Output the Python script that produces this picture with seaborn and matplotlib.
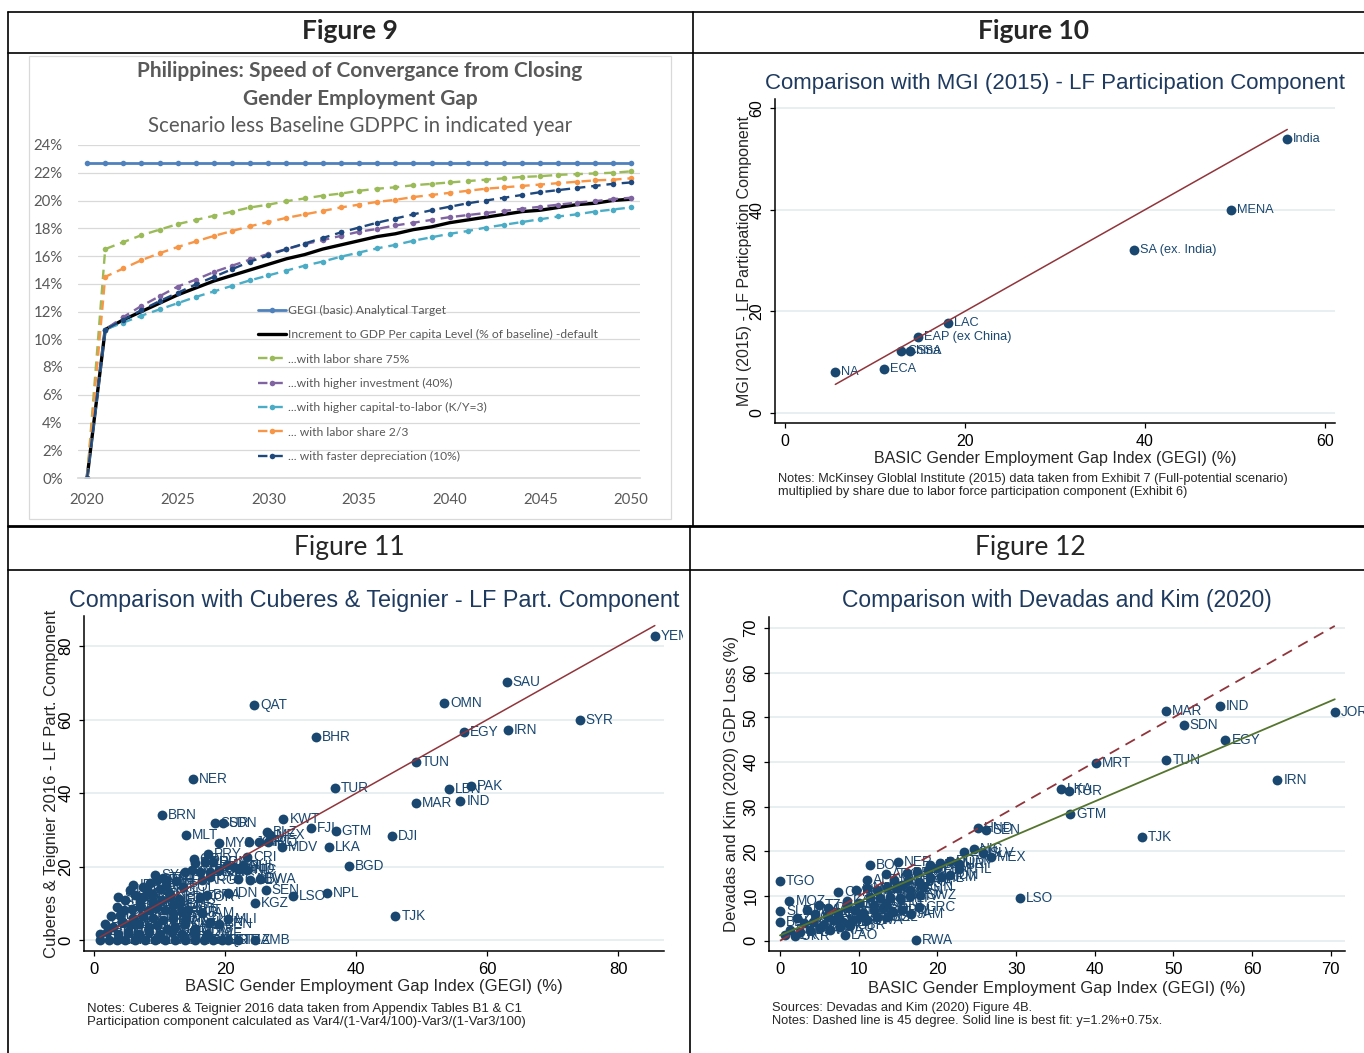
import seaborn as sns
import matplotlib.pyplot as plt
from matplotlib.lines import Line2D
from matplotlib.patches import Rectangle
from matplotlib.transforms import Bbox, TransformedBbox

W, H = 1364, 1053

# ---------------- Figure 9: scenario less baseline GDPPC (%) ----------------
years = list(range(2020, 2051))
gegi_target = [22.7, 22.7, 22.7, 22.7, 22.7, 22.7, 22.7, 22.7, 22.7, 22.7, 22.7,
               22.7, 22.7, 22.7, 22.7, 22.7, 22.7, 22.7, 22.7, 22.7, 22.7,
               22.7, 22.7, 22.7, 22.7, 22.7, 22.7, 22.7, 22.7, 22.7, 22.7]
default_incr = [0.0, 10.7, 11.4, 12.0, 12.6, 13.2, 13.7, 14.2, 14.6, 15.0, 15.4,
                15.8, 16.1, 16.5, 16.8, 17.1, 17.4, 17.6, 17.9, 18.1, 18.4,
                18.6, 18.8, 19.0, 19.2, 19.3, 19.5, 19.7, 19.8, 20.0, 20.1]
labor75 = [0.0, 16.5, 17.0, 17.5, 17.9, 18.3, 18.6, 18.9, 19.2, 19.5, 19.7,
           19.95, 20.15, 20.35, 20.5, 20.7, 20.85, 20.95, 21.1, 21.2, 21.3,
           21.4, 21.5, 21.6, 21.7, 21.75, 21.85, 21.9, 21.95, 22.0, 22.1]
invest40 = [0.0, 10.7, 11.6, 12.4, 13.1, 13.8, 14.3, 14.85, 15.3, 15.75, 16.15,
            16.5, 16.85, 17.15, 17.45, 17.75, 17.95, 18.2, 18.4, 18.6, 18.8,
            18.95, 19.1, 19.25, 19.4, 19.55, 19.7, 19.85, 19.95, 20.1, 20.2]
kl3 = [0.0, 10.7, 11.2, 11.7, 12.15, 12.6, 13.05, 13.45, 13.85, 14.25, 14.6,
       14.95, 15.3, 15.6, 15.95, 16.25, 16.55, 16.8, 17.1, 17.35, 17.6,
       17.8, 18.05, 18.25, 18.45, 18.65, 18.85, 19.0, 19.2, 19.35, 19.5]
labor23 = [0.0, 14.5, 15.1, 15.7, 16.2, 16.65, 17.05, 17.45, 17.8, 18.15, 18.45,
           18.75, 19.0, 19.25, 19.5, 19.7, 19.9, 20.05, 20.25, 20.4, 20.55,
           20.7, 20.85, 20.95, 21.05, 21.15, 21.25, 21.35, 21.45, 21.5, 21.6]
deprec10 = [0.0, 10.7, 11.4, 12.1, 12.75, 13.35, 13.95, 14.5, 15.05, 15.6, 16.05,
            16.5, 16.9, 17.3, 17.7, 18.05, 18.4, 18.7, 19.0, 19.3, 19.55,
            19.8, 20.0, 20.2, 20.4, 20.6, 20.75, 20.9, 21.05, 21.2, 21.3]
fig9_yticks = [0, 2, 4, 6, 8, 10, 12, 14, 16, 18, 20, 22, 24]
fig9_xticks = [2020, 2025, 2030, 2035, 2040, 2045, 2050]

# ---------------- Figure 10: MGI (2015) regions ----------------
mgi_regions = ["India", "MENA", "SA (ex. India)", "LAC", "EAP (ex China)",
               "China", "SSA", "ECA", "NA"]
mgi_gegi = [55.8, 49.6, 38.8, 18.1, 14.8, 12.95, 13.9, 11.0, 5.6]
mgi_lfp = [53.9, 39.9, 32.1, 17.6, 15.0, 12.1, 12.1, 8.7, 8.1]

# ---------------- Figure 11: Cuberes & Teignier (2016) ----------------
ct_named_codes = ["YEM", "SAU", "QAT", "OMN", "SYR", "EGY", "IRN", "BHR", "TUN", "NER",
                  "TUR", "LBN", "PAK", "MAR", "IND", "BRN", "SUR", "SDN", "KWT", "FJI",
                  "GTM", "DJI", "MLT", "BLZ", "MEX", "MYS", "JOR", "CHL", "IRQ", "MDV",
                  "LKA", "BGD", "PRY", "CRI", "PHL", "SEN", "LSO", "NPL", "IDN", "KGZ",
                  "TJK", "JAM", "MLI"]
ct_named_gegi = [85.6, 63.0, 24.4, 53.4, 74.1, 56.5, 63.2, 33.8, 49.1, 15.1,
                 36.7, 54.2, 57.5, 49.1, 55.9, 10.4, 18.4, 19.6, 28.9, 33.1,
                 36.9, 45.5, 14.0, 26.4, 26.9, 19.0, 23.7, 25.1, 26.5, 28.7,
                 35.8, 38.9, 17.4, 23.4, 22.8, 26.2, 30.4, 35.6, 20.5, 24.6,
                 46.0, 16.4, 20.5]
ct_named_part = [82.8, 70.3, 64.1, 64.6, 59.9, 56.7, 57.1, 55.3, 48.5, 44.0,
                 41.4, 41.1, 41.9, 37.3, 37.9, 34.2, 32.0, 32.0, 33.1, 30.6,
                 29.7, 28.5, 28.6, 29.5, 28.6, 26.5, 26.7, 26.7, 26.7, 25.4,
                 25.4, 20.2, 23.6, 22.7, 20.2, 13.6, 12.1, 13.0, 12.9, 10.2,
                 6.7, 7.3, 5.9]
ct_cluster_codes = ["COL", "ECU", "PER", "DOM", "PAN", "BOL", "HND", "NIC", "SWZ", "AZE",
                    "ALB", "ARM", "GEO", "SYC", "JPN", "CYP", "ARG", "GAB", "SLV", "BWA",
                    "KOR", "BRA", "LTU", "SWE", "NOR", "EST", "DNK", "FIN", "CHE", "NLD",
                    "CZE", "ISL", "CAN", "LVA", "FRA", "SVN", "AUS", "USA", "DEU", "GBR",
                    "AUT", "BDI", "RWA", "MOZ", "MDG", "KHM", "VNM", "LAO", "THA", "CHN",
                    "KAZ", "MNG", "KEN", "BEN", "TGO", "GIN", "BFA", "UGA", "ETH", "GHA",
                    "MWI", "CAF", "CIV", "COM", "ZWE", "TCD", "SLE", "LBR", "GMB", "ERI",
                    "GNB", "NAM", "ZAF", "BLR", "UKR", "MDA", "GNQ", "AGO", "MRT", "STP",
                    "TZA", "ZMB", "IRL", "ESP", "ITA", "GRC", "PRT", "HUN", "POL", "ROU",
                    "NZL", "ISR", "BEL", "LUX", "HRV", "BGR", "MKD", "URY", "VEN", "TTO",
                    "MUS", "CMR", "NGA", "SRB", "BIH"]
ct_cluster_gegi = [15.2, 15.4, 16.9, 18.2, 20.3, 21.3, 22.3, 23.4, 13.9, 14.9,
                   16.2, 17.7, 19.0, 9.3, 9.6, 17.7, 16.4, 22.0, 23.8, 25.3,
                   16.2, 17.2, 5.5, 3.7, 4.7, 6.3, 7.5, 8.8, 10.3, 11.6,
                   12.9, 3.5, 4.5, 5.8, 7.0, 8.3, 9.6, 10.8, 12.1, 13.4,
                   14.4, 1.7, 2.9, 4.2, 5.5, 6.8, 8.3, 9.6, 11.1, 12.4,
                   13.9, 15.4, 17.7, 19.0, 0.9, 1.9, 3.7, 5.2, 6.8, 8.3,
                   10.1, 11.9, 13.4, 15.4, 17.2, 0.9, 2.2, 3.5, 4.7, 6.3,
                   7.8, 9.3, 10.8, 12.4, 13.9, 15.4, 16.7, 18.2, 19.5, 20.5,
                   22.0, 24.6, 6.0, 7.5, 8.5, 10.0, 11.0, 12.5, 13.5, 11.5,
                   4.0, 6.0, 7.5, 9.0, 10.5, 12.0, 14.0, 8.0, 9.0, 10.5,
                   12.0, 13.0, 2.5, 7.0, 11.0]
ct_cluster_part = [22.2, 20.9, 21.3, 21.3, 20.4, 19.9, 19.5, 19.0, 18.6, 19.0,
                   18.6, 18.6, 19.0, 17.7, 16.3, 17.2, 16.3, 16.8, 16.3, 16.8,
                   11.8, 12.2, 13.6, 11.8, 10.9, 12.2, 11.8, 12.7, 10.9, 11.8,
                   11.3, 9.1, 8.2, 8.6, 9.1, 8.2, 9.1, 8.2, 7.3, 7.7,
                   8.2, 4.5, 3.6, 5.0, 4.1, 4.5, 3.6, 4.1, 3.2, 3.6,
                   4.5, 3.2, 5.0, 4.5, 1.8, 2.3, 1.8, 2.3, 1.8, 2.3,
                   1.8, 2.3, 1.8, 2.3, 1.8, 0.0, 0.0, 0.0, 0.0, 0.0,
                   0.0, 0.0, 0.0, 0.0, 0.0, 0.0, 0.0, 0.0, 0.0, 0.0,
                   0.0, 0.0, 15.0, 14.5, 15.5, 14.0, 15.0, 16.0, 14.5, 13.0,
                   7.0, 6.0, 6.5, 6.0, 5.5, 6.0, 6.0, 13.5, 10.5, 17.0,
                   9.5, 10.0, 6.5, 10.5, 16.5]

# ---------------- Figure 12: Devadas and Kim (2020) ----------------
dk_named_codes = ["JOR", "IND", "MAR", "SDN", "EGY", "TUN", "MRT", "IRN", "LKA", "TUR",
                  "GTM", "TJK", "HND", "SEN", "NIC", "MEX", "DOM", "PHL", "BOL", "NER",
                  "ARG", "TGO", "CMR", "MOZ", "SLE", "BDI", "LSO", "GRC", "JAM", "BWA",
                  "LAO", "RWA"]
dk_named_gegi = [70.5, 55.9, 49.0, 51.3, 56.6, 49.1, 40.1, 63.2, 35.7, 36.7,
                 36.9, 46.0, 25.2, 26.2, 24.6, 26.8, 21.6, 22.8, 11.4, 15.0,
                 13.5, 0.0, 7.4, 1.2, 0.0, 0.0, 30.5, 17.7, 16.6, 11.1,
                 8.3, 17.3]
dk_named_loss = [51.2, 52.5, 51.4, 48.4, 45.0, 40.4, 39.7, 36.1, 33.9, 33.5,
                 28.4, 23.3, 25.2, 24.7, 20.5, 18.8, 17.9, 16.0, 16.9, 17.7,
                 15.0, 13.3, 11.0, 8.8, 6.6, 4.2, 9.5, 7.6, 6.0, 4.6,
                 1.3, 0.1]
dk_cluster_codes = ["ECU", "SLV", "PAN", "URY", "PER", "COL", "CRI", "PRY", "VEN", "BRA",
                    "CHL", "ARM", "IDN", "KHM", "MDG", "GHA", "KEN", "ZMB", "BEN", "GIN",
                    "UGA", "ETH", "BFA", "MLI", "CIV", "SWZ", "ZWE", "MWI", "TZA", "COM",
                    "CAF", "GAB", "NAM", "ZAF", "BGR", "ROU", "HUN", "POL", "NOR", "SWE",
                    "FIN", "DNK", "ISL", "CAN", "USA", "AUS", "NZL", "EST", "LTU", "LVA",
                    "SVN", "FRA", "DEU", "GBR", "BLR", "UKR", "CHN", "VNM", "THA", "MNG",
                    "KAZ", "AZE", "GEO", "ALB", "MKD", "BIH", "SRB"]
dk_cluster_gegi = [23.4, 25.8, 20.3, 22.7, 16.1, 17.4, 18.8, 19.9, 16.3, 17.6,
                   19.1, 20.5, 21.6, 9.7, 11.0, 12.3, 13.6, 14.8, 16.5, 18.2,
                   11.4, 12.7, 14.0, 15.2, 16.5, 17.8, 2.1, 3.4, 4.9, 6.1,
                   7.2, 8.5, 9.5, 10.6, 11.9, 13.1, 14.4, 15.5, 3.0, 4.2,
                   5.5, 6.8, 8.0, 9.3, 10.2, 12.3, 13.6, 1.3, 2.5, 3.8,
                   5.1, 6.4, 7.6, 8.9, 0.6, 1.9, 4.5, 6.0, 7.5, 10.0,
                   8.5, 12.0, 13.5, 11.0, 14.5, 15.5, 19.0]
dk_cluster_loss = [19.9, 19.7, 17.3, 17.2, 15.1, 15.5, 15.8, 16.2, 13.6, 13.2,
                   14.0, 14.3, 14.7, 11.4, 11.7, 11.4, 12.1, 11.7, 11.4, 12.1,
                   9.9, 9.5, 9.9, 9.5, 10.0, 10.2, 5.0, 6.9, 8.0, 7.3,
                   6.5, 7.6, 6.9, 6.1, 6.9, 7.3, 6.5, 6.9, 3.9, 4.3,
                   3.5, 4.6, 4.3, 4.6, 5.4, 5.4, 5.4, 2.4, 2.0, 2.4,
                   2.8, 2.4, 3.1, 3.5, 1.3, 1.1, 6.0, 5.5, 5.0, 8.5,
                   9.0, 8.0, 8.5, 13.5, 13.5, 12.5, 17.0]
dk_fit_intercept = 1.2
dk_fit_slope = 0.75

# ---------------- styling ----------------
EXCEL_TXT = "#595959"
EXCEL_GRID = "#D9D9D9"
NAVY = "#1a476f"
FIT_RED = "#90353b"
FIT_GREEN = "#55752f"
STATA_GRID = "#e6eef0"
TITLE_C = "#1e3a5f"

sns.set_theme(style="white")
plt.rcParams["font.family"] = ["Liberation Sans", "DejaVu Sans"]

fig = plt.figure(figsize=(W / 100, H / 100), dpi=100, facecolor="white")


def px_axes(left, top, right, bottom):
    return fig.add_axes([left / W, 1 - bottom / H, (right - left) / W, (bottom - top) / H])


def fig_text(x, y, s, **kw):
    return fig.text(x / W, 1 - y / H, s, **kw)


def table_line(x0, y0, x1, y1, lw=1.2):
    fig.add_artist(Line2D([x0 / W, x1 / W], [1 - y0 / H, 1 - y1 / H],
                          color="black", lw=lw, transform=fig.transFigure))


def cell_clip(left, top, right, bottom):
    box = Bbox.from_extents(left / W, 1 - bottom / H, right / W, 1 - top / H)
    return TransformedBbox(box, fig.transFigure)


# table grid
table_line(7.7, 12.3, W, 12.3)
table_line(7.7, 12.3, 7.7, H)
table_line(7.7, 53, W, 53)
table_line(692.7, 12.3, 692.7, 526)
table_line(7.7, 526, W, 526, lw=2.0)
table_line(7.7, 570, W, 570)
table_line(690, 526, 690, H)

fig_text(350, 31, "Figure 9", ha="center", va="center", fontsize=19,
         fontweight="bold", family="Lato")
fig_text(1034, 31, "Figure 10", ha="center", va="center", fontsize=19,
         fontweight="bold", family="Lato")
fig_text(349, 547, "Figure 11", ha="center", va="center", fontsize=19, family="Lato")
fig_text(1030, 547, "Figure 12", ha="center", va="center", fontsize=19, family="Lato")

# ---------------- Figure 9 (Excel style) ----------------
fig.add_artist(Rectangle((29 / W, 1 - 519 / H), (671 - 29) / W, (519 - 55.7) / H,
                         transform=fig.transFigure, fill=False,
                         edgecolor=EXCEL_GRID, lw=0.9))
fig_text(360, 71, "Philippines: Speed of Convergance from Closing", ha="center",
         va="center", fontsize=15, fontweight="bold", color=EXCEL_TXT, family="Lato")
fig_text(360, 99, "Gender Employment Gap", ha="center", va="center", fontsize=15,
         fontweight="bold", color=EXCEL_TXT, family="Lato")
fig_text(360, 126, "Scenario less Baseline GDPPC in indicated year", ha="center",
         va="center", fontsize=14.8, color=EXCEL_TXT, family="Lato")

ax9 = px_axes(78, 145, 640, 478)
dash = (0, (4, 2.5))
excel_series = [
    (gegi_target, "GEGI (basic) Analytical Target", "#4F81BD", "-", "o", 2.0),
    (default_incr, "Increment to GDP Per capita Level (% of baseline) -default",
     "black", "-", "", 2.4),
    (labor75, "...with labor share 75%", "#9BBB59", dash, "o", 1.7),
    (invest40, "...with higher investment (40%)", "#8064A2", dash, "o", 1.7),
    (kl3, "...with higher capital-to-labor (K/Y=3)", "#4BACC6", dash, "o", 1.7),
    (labor23, "... with labor share 2/3", "#F79646", dash, "o", 1.7),
    (deprec10, "... with faster depreciation (10%)", "#1F497D", dash, "o", 1.7),
]
for vals, lab, col, ls, mk, lw in excel_series:
    sns.lineplot(x=years, y=vals, ax=ax9, color=col, linestyle=ls, marker=mk,
                 markersize=4, markeredgecolor=col, markeredgewidth=0,
                 linewidth=lw, label=lab, errorbar=None, sort=False)

ax9.set_xlim(2019.5, 2050.5)
ax9.set_ylim(0, 24)
ax9.set_xticks(fig9_xticks)
ax9.set_xticklabels([str(v) for v in fig9_xticks])
ax9.set_yticks(fig9_yticks)
ax9.set_yticklabels([f"{v}%" for v in fig9_yticks])
ax9.set_xlabel("")
ax9.set_ylabel("")
for side in ("top", "right", "left"):
    ax9.spines[side].set_visible(False)
ax9.spines["bottom"].set_color(EXCEL_GRID)
ax9.yaxis.grid(True, color=EXCEL_GRID, lw=0.9)
ax9.set_axisbelow(True)
ax9.tick_params(length=0, labelsize=10.8, labelcolor=EXCEL_TXT, pad=11)
for t in ax9.get_xticklabels() + ax9.get_yticklabels():
    t.set_family("Lato")
handles, labels = ax9.get_legend_handles_labels()
ax9.legend(handles, labels, loc="upper left",
           bbox_to_anchor=((258 - 78) / 562, (478 - 305) / 333),
           frameon=False, borderpad=0, borderaxespad=0, handlelength=2.3,
           handletextpad=0.15, labelspacing=1.1, numpoints=1,
           prop={"family": "Lato", "size": 8.7}, labelcolor=EXCEL_TXT)


# ---------------- Stata-style scatter panels ----------------
def stata_axes(ax, xlim, ylim, ticks_x, ticks_y, h_px, w_px, xlabel, ylabel,
               xlab_off, ylab_off, fs):
    ax.set_xlim(*xlim)
    ax.set_ylim(*ylim)
    ax.set_xticks(ticks_x)
    ax.set_xticklabels([str(v) for v in ticks_x])
    ax.set_yticks(ticks_y)
    ax.set_yticklabels([str(v) for v in ticks_y])
    for side in ("top", "right"):
        ax.spines[side].set_visible(False)
    for side in ("left", "bottom"):
        ax.spines[side].set_color("black")
        ax.spines[side].set_linewidth(1.1)
    ax.tick_params(axis="both", direction="out", length=3.6, width=0.9,
                   color="black", labelcolor="black", labelsize=fs, pad=4,
                   left=True, bottom=True)
    ax.tick_params(axis="y", labelrotation=90)
    for t in ax.get_yticklabels():
        t.set_va("center")
    ax.yaxis.grid(True, color=STATA_GRID, lw=1.3)
    ax.xaxis.grid(False)
    ax.set_axisbelow(True)
    ax.set_xlabel(xlabel, fontsize=fs, va="center")
    ax.set_ylabel(ylabel, fontsize=fs, va="center")
    ax.xaxis.set_label_coords(0.5, -xlab_off / h_px)
    ax.yaxis.set_label_coords(-ylab_off / w_px, 0.5)


def scatter_labels(ax, codes, xs, ys, size, clip=None):
    sns.scatterplot(x=xs, y=ys, ax=ax, s=50, color=NAVY, edgecolor=NAVY,
                    linewidth=0, zorder=2, legend=False)
    for c, x, y in zip(codes, xs, ys):
        t = ax.annotate(c, (x, y), xytext=(6, 0), textcoords="offset pixels",
                        ha="left", va="center", fontsize=size, color=NAVY,
                        annotation_clip=False, zorder=2.5)
        if clip is not None:
            t.set_clip_box(clip)
            t.set_clip_on(True)


# Figure 10
ax10 = px_axes(775, 99, 1335, 423)
scatter_labels(ax10, mgi_regions, mgi_gegi, mgi_lfp, 9.2)
lo, hi = min(mgi_gegi), max(mgi_gegi)
ax10.plot([lo, hi], [lo, hi], color=FIT_RED, lw=1.1, zorder=3)
stata_axes(ax10, (-1.1, 61.1), (-2.0, 61.8), [0, 20, 40, 60], [0, 20, 40, 60],
           324, 560, "BASIC Gender Employment Gap Index (GEGI) (%)",
           "MGI (2015) - LF Particpation Component", 35, 31, 11.5)
fig_text(1055, 84, "Comparison with MGI (2015) - LF Participation Component",
         ha="center", va="center", fontsize=16, color=TITLE_C)
fig_text(778, 479, "Notes: McKinsey Globlal Institute (2015) data taken from Exhibit 7 "
         "(Full-potential scenario)", ha="left", va="center", fontsize=9.2)
fig_text(778, 492, "multiplied by share due to labor force participation component "
         "(Exhibit 6)", ha="left", va="center", fontsize=9.2)

# Figure 11
ax11 = px_axes(84, 616, 664, 951)
clip11 = cell_clip(8, 570, 683, H)
scatter_labels(ax11, ct_cluster_codes, ct_cluster_gegi, ct_cluster_part, 9.8, clip11)
scatter_labels(ax11, ct_named_codes, ct_named_gegi, ct_named_part, 9.8, clip11)
all_x = ct_named_gegi + ct_cluster_gegi
lo, hi = min(all_x), max(all_x)
ax11.plot([lo, hi], [lo, hi], color=FIT_RED, lw=1.1, zorder=3)
stata_axes(ax11, (-1.55, 87.0), (-2.9, 88.2), [0, 20, 40, 60, 80],
           [0, 20, 40, 60, 80], 335, 580,
           "BASIC Gender Employment Gap Index (GEGI) (%)",
           "Cuberes & Teignier 2016 - LF Part. Component", 36, 32, 12)
fig_text(374.5, 601, "Comparison with Cuberes & Teignier - LF Part. Component",
         ha="center", va="center", fontsize=16.8, color=TITLE_C)
fig_text(87, 1009, "Notes: Cuberes & Teignier 2016 data taken from Appendix Tables B1 & C1",
         ha="left", va="center", fontsize=9.5)
fig_text(87, 1022, "Participation component calculated as Var4/(1-Var4/100)-Var3/(1-Var3/100)",
         ha="left", va="center", fontsize=9.5)

# Figure 12
ax12 = px_axes(769, 617, 1345, 951)
scatter_labels(ax12, dk_cluster_codes, dk_cluster_gegi, dk_cluster_loss, 9.8)
scatter_labels(ax12, dk_named_codes, dk_named_gegi, dk_named_loss, 9.8)
all_x = dk_named_gegi + dk_cluster_gegi
lo, hi = min(all_x), max(all_x)
ax12.plot([lo, hi], [lo, hi], color=FIT_RED, lw=1.3, zorder=3, dashes=(6, 4))
ax12.plot([lo, hi], [dk_fit_intercept + dk_fit_slope * lo,
                     dk_fit_intercept + dk_fit_slope * hi],
          color=FIT_GREEN, lw=1.3, zorder=3)
stata_axes(ax12, (-1.4, 71.8), (-2.3, 72.5), [0, 10, 20, 30, 40, 50, 60, 70],
           [0, 10, 20, 30, 40, 50, 60, 70], 334, 576,
           "BASIC Gender Employment Gap Index (GEGI) (%)",
           "Devadas and Kim (2020) GDP Loss (%)", 37, 38, 12)
fig_text(1057, 601, "Comparison with Devadas and Kim (2020)", ha="center",
         va="center", fontsize=16.5, color=TITLE_C)
fig_text(772, 1008, "Sources: Devadas and Kim (2020) Figure 4B.", ha="left",
         va="center", fontsize=9.3)
fig_text(772, 1021, "Notes: Dashed line is 45 degree. Solid line is best fit: "
         "y=1.2%+0.75x.", ha="left", va="center", fontsize=9.3)

fig.savefig("out.png", dpi=100, facecolor="white")
